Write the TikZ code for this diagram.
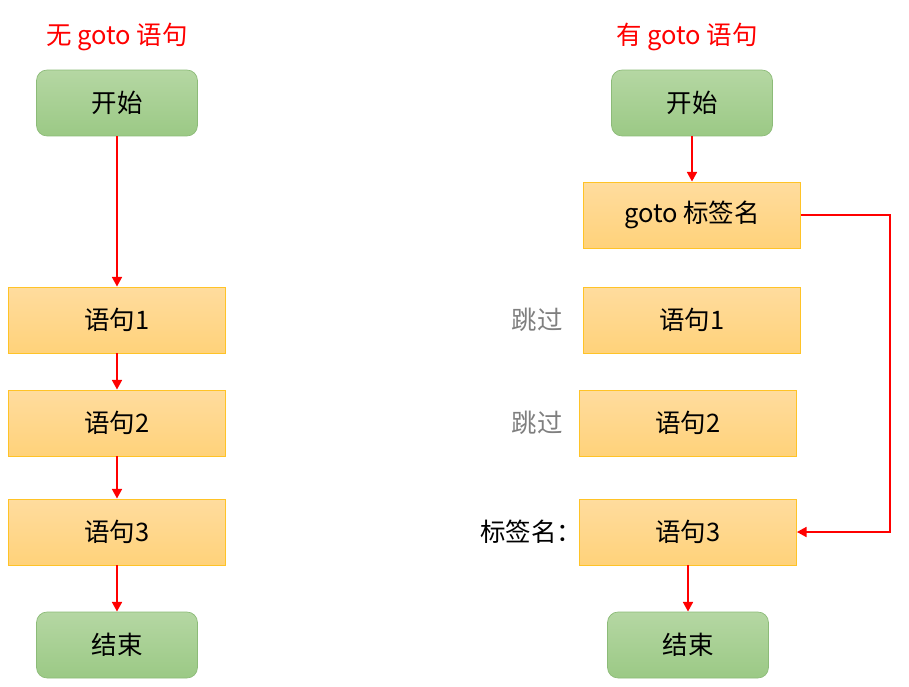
\documentclass[tikz,border=0pt]{standalone}
\usepackage{fontspec}
\setmainfont{Noto Sans CJK SC}
\usetikzlibrary{arrows.meta}

\definecolor{arrowred}{HTML}{FF0000}
\definecolor{greentop}{HTML}{B5D7A3}
\definecolor{greenbot}{HTML}{9BC985}
\definecolor{greenline}{HTML}{8CBB78}
\definecolor{orangetop}{HTML}{FFDC9E}
\definecolor{orangebot}{HTML}{FFD27A}
\definecolor{orangeline}{HTML}{FFC327}
\definecolor{skipgray}{HTML}{7F7F7F}

\begin{document}
\begin{tikzpicture}[
        x=0.02cm, y=-0.02cm,
        flow/.style={-{Triangle[length=5.5pt,width=5.5pt]}, draw=arrowred, line width=1.6pt},
        term/.style={draw=greenline, rounded corners=6pt, top color=greentop, bottom color=greenbot,
                minimum width=3.22cm, minimum height=1.32cm, inner sep=0pt},
        stmt/.style={draw=orangeline, top color=orangetop, bottom color=orangebot,
                minimum width=4.34cm, minimum height=1.32cm, inner sep=0pt},
        title/.style={text=arrowred},
        note/.style={text=skipgray},
        every node/.style={font=\fontsize{14.5}{17}\selectfont}
    ]
    \useasboundingbox (0,0) rectangle (909,686);

    % without goto
    \node[title] (titleleft) at (117,37) {无 goto 语句};
    \node[term] (startleft) at (117,103) {开始};
    \node[stmt] (stmtlefta) at (117,320) {语句1};
    \node[stmt] (stmtleftb) at (117,423) {语句2};
    \node[stmt] (stmtleftc) at (117,532) {语句3};
    \node[term] (endleft) at (117,645) {结束};

    \draw[flow] (startleft) -- (stmtlefta);
    \draw[flow] (stmtlefta) -- (stmtleftb);
    \draw[flow] (stmtleftb) -- (stmtleftc);
    \draw[flow] (stmtleftc) -- (endleft);

    % with goto
    \node[title] (titleright) at (687,37) {有 goto 语句};
    \node[term] (startright) at (692,103) {开始};
    \node[stmt] (gotostmt) at (692,215) {goto 标签名};
    \node[stmt] (stmtrighta) at (692,320) {语句1};
    \node[stmt] (stmtrightb) at (688,423) {语句2};
    \node[stmt] (stmtrightc) at (688,532) {语句3};
    \node[term] (endright) at (688,645) {结束};

    \node[note] (skipa) at (537,320) {跳过};
    \node[note] (skipb) at (537,423) {跳过};
    \node (labelname) at (531,532) {标签名：};

    \coordinate (jumptop) at (890,215);
    \coordinate (jumpbot) at (890,532);

    \draw[flow] (startright) -- (gotostmt);
    \draw[flow] (gotostmt.east) -- (jumptop) -- (jumpbot) -- (stmtrightc.east);
    \draw[flow] (stmtrightc) -- (endright);
\end{tikzpicture}
\end{document}
